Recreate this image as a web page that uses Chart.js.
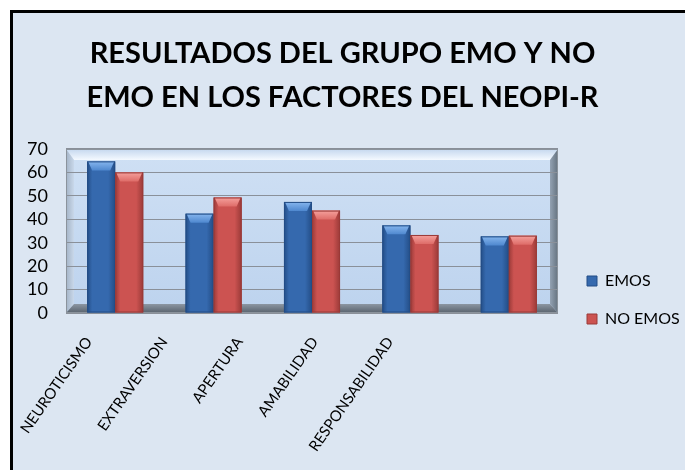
<!DOCTYPE html>
<html>
<head>
<meta charset="utf-8">
<script src="https://cdn.jsdelivr.net/npm/chart.js@4"></script>
<style>
  html, body { margin: 0; padding: 0; background: #ffffff; overflow: hidden; }
  #frame { position: absolute; left: 10px; top: 10px; width: 700px; height: 500px;
           border-left: 3px solid #000; border-top: 3px solid #000; background: #dce6f2; }
  #c { position: absolute; left: 0; top: 0; }
</style>
</head>
<body>
<div id="frame"></div>
<canvas id="c" width="685" height="470"></canvas>
<script>
// ---- data ----
const categories = ['NEUROTICISMO', 'EXTRAVERSION', 'APERTURA', 'AMABILIDAD', 'RESPONSABILIDAD'];
const seriesNames = ['EMOS', 'NO EMOS'];
const emos   = [64.7, 42.4, 47.4, 37.4, 32.7];
const noEmos = [60.0, 49.3, 43.7, 33.3, 33.0];
const titleLines = ['RESULTADOS DEL GRUPO EMO Y NO', 'EMO EN LOS FACTORES DEL NEOPI-R'];
const yMin = 0, yMax = 70, yStep = 10;

const FONT = 'Lato, "Liberation Sans", Arial, sans-serif';

const shades = [
  { mid: '#3569ae', edge: '#234d86', topLight: '#86b6ee', top: '#4f88cf' },
  { mid: '#cc5351', edge: '#9a3a38', topLight: '#f5a19d', top: '#de6c68' }
];

function poly(ctx, pts, fill) {
  ctx.beginPath();
  ctx.moveTo(pts[0][0], pts[0][1]);
  for (let i = 1; i < pts.length; i++) ctx.lineTo(pts[i][0], pts[i][1]);
  ctx.closePath();
  ctx.fillStyle = fill;
  ctx.fill();
}

const wallPlugin = {
  id: 'wall',
  beforeDraw(chart) {
    const ctx = chart.ctx;
    const { left: L, top: T, right: R, bottom: B } = chart.chartArea;
    const d = 8, tb = 11, fb = 9;
    ctx.save();
    let g = ctx.createLinearGradient(0, T, 0, B);
    g.addColorStop(0, '#cfe0f4'); g.addColorStop(1, '#bdd3ee');
    ctx.fillStyle = g; ctx.fillRect(L, T, R - L, B - T);
    g = ctx.createLinearGradient(0, T, 0, T + tb);
    g.addColorStop(0, '#c4d7ee'); g.addColorStop(1, '#f4f9ff');
    poly(ctx, [[L, T], [R, T], [R - d, T + tb], [L + d, T + tb]], g);
    g = ctx.createLinearGradient(L, 0, L + d, 0);
    g.addColorStop(0, '#a3b3c6'); g.addColorStop(1, '#c9d8ea');
    poly(ctx, [[L, T], [L + d, T + tb], [L + d, B - fb], [L, B]], g);
    g = ctx.createLinearGradient(R - d, 0, R, 0);
    g.addColorStop(0, '#93a2b3'); g.addColorStop(1, '#64727f');
    poly(ctx, [[R, T], [R - d, T + tb], [R - d, B - fb], [R, B]], g);
    ctx.restore();
  },
  beforeDatasetsDraw(chart) {
    const ctx = chart.ctx;
    const { left: L, top: T, right: R, bottom: B } = chart.chartArea;
    const d = 8, fb = 9;
    ctx.save();
    const g = ctx.createLinearGradient(0, B - fb, 0, B);
    g.addColorStop(0, '#8c96a2'); g.addColorStop(1, '#58626d');
    poly(ctx, [[L, B], [L + d, B - fb], [R - d, B - fb], [R, B]], g);
    ctx.strokeStyle = '#8b939c'; ctx.lineWidth = 1;
    ctx.strokeRect(L + 0.5, T + 0.5, R - L - 1, B - T - 1);
    ctx.restore();
  },
  afterDatasetsDraw(chart) {
    const ctx = chart.ctx;
    ctx.save();
    chart.data.datasets.forEach((ds, di) => {
      const meta = chart.getDatasetMeta(di);
      const p = shades[di];
      meta.data.forEach(el => {
        const { x, y, base, width } = el.getProps(['x', 'y', 'base', 'width'], true);
        const l = x - width / 2, r = x + width / 2;
        let g = ctx.createLinearGradient(l, 0, r, 0);
        g.addColorStop(0, p.edge); g.addColorStop(0.18, p.mid);
        g.addColorStop(0.75, p.mid); g.addColorStop(1, p.edge);
        ctx.fillStyle = g;
        ctx.fillRect(l, y, width, base - y);
        const h = 9, ins = 5;
        g = ctx.createLinearGradient(0, y, 0, y + h);
        g.addColorStop(0, p.topLight); g.addColorStop(1, p.top);
        poly(ctx, [[l + 1, y], [r - 1, y], [r - ins, y + h], [l + ins, y + h]], g);
        ctx.strokeStyle = p.edge; ctx.lineWidth = 1;
        ctx.strokeRect(l + 0.5, y + 0.5, width - 1, base - y - 1);
      });
    });
    ctx.restore();
  },
  afterDraw(chart) {
    // rotated category labels, placed from the x scale's tick positions
    const ctx = chart.ctx;
    const xs = chart.scales.x;
    const x0 = xs.getPixelForTick(0);
    ctx.save();
    ctx.font = '15px ' + FONT;
    ctx.fillStyle = '#000';
    ctx.textAlign = 'right';
    ctx.textBaseline = 'middle';
    categories.forEach((lab, i) => {
      const ax = xs.left + 23 + (xs.getPixelForTick(i) - x0) * 0.765;
      const ay = xs.top + 26;
      ctx.save();
      ctx.translate(ax, ay);
      ctx.rotate(-55 * Math.PI / 180);
      ctx.fillText(xs.getLabelForValue(i), 0, 0);
      ctx.restore();
    });
    ctx.restore();
  }
};

new Chart(document.getElementById('c'), {
  type: 'bar',
  data: {
    labels: categories,
    datasets: [
      { label: seriesNames[0], data: emos, backgroundColor: shades[0].mid, borderColor: shades[0].edge, borderWidth: 1 },
      { label: seriesNames[1], data: noEmos, backgroundColor: shades[1].mid, borderColor: shades[1].edge, borderWidth: 1 }
    ]
  },
  options: {
    responsive: false,
    animation: false,
    devicePixelRatio: 1,
    layout: { padding: { left: 0, right: 0, top: 0, bottom: 121 } },
    datasets: { bar: { categoryPercentage: 0.57, barPercentage: 1.0 } },
    scales: {
      x: {
        grid: { display: false },
        border: { display: false },
        ticks: { display: false },
        afterFit: s => { s.height = 36; }
      },
      y: {
        min: yMin, max: yMax,
        ticks: { stepSize: yStep, padding: 18, color: '#000', autoSkip: false,
                 font: { family: FONT, size: 18 } },
        grid: { color: '#8a9099', lineWidth: 1, drawTicks: false },
        border: { display: false },
        afterFit: s => { s.width = 66; }
      },
      yR: {
        position: 'right',
        display: true,
        grid: { display: false },
        border: { display: false },
        ticks: { display: false },
        afterFit: s => { s.width = 7; }
      }
    },
    plugins: {
      title: {
        display: true,
        text: titleLines,
        color: '#000',
        font: { family: FONT, weight: 'bold', size: 29, lineHeight: 1.517 },
        padding: { top: 32, bottom: 29 }
      },
      legend: {
        position: 'right',
        align: 'end',
        fullSize: true,
        maxWidth: 120,
        labels: {
          boxWidth: 10, boxHeight: 10, padding: 22, color: '#000',
          font: { family: FONT, size: 16 }
        }
      },
      tooltip: { enabled: false }
    }
  },
  plugins: [wallPlugin]
});
</script>
</body>
</html>
